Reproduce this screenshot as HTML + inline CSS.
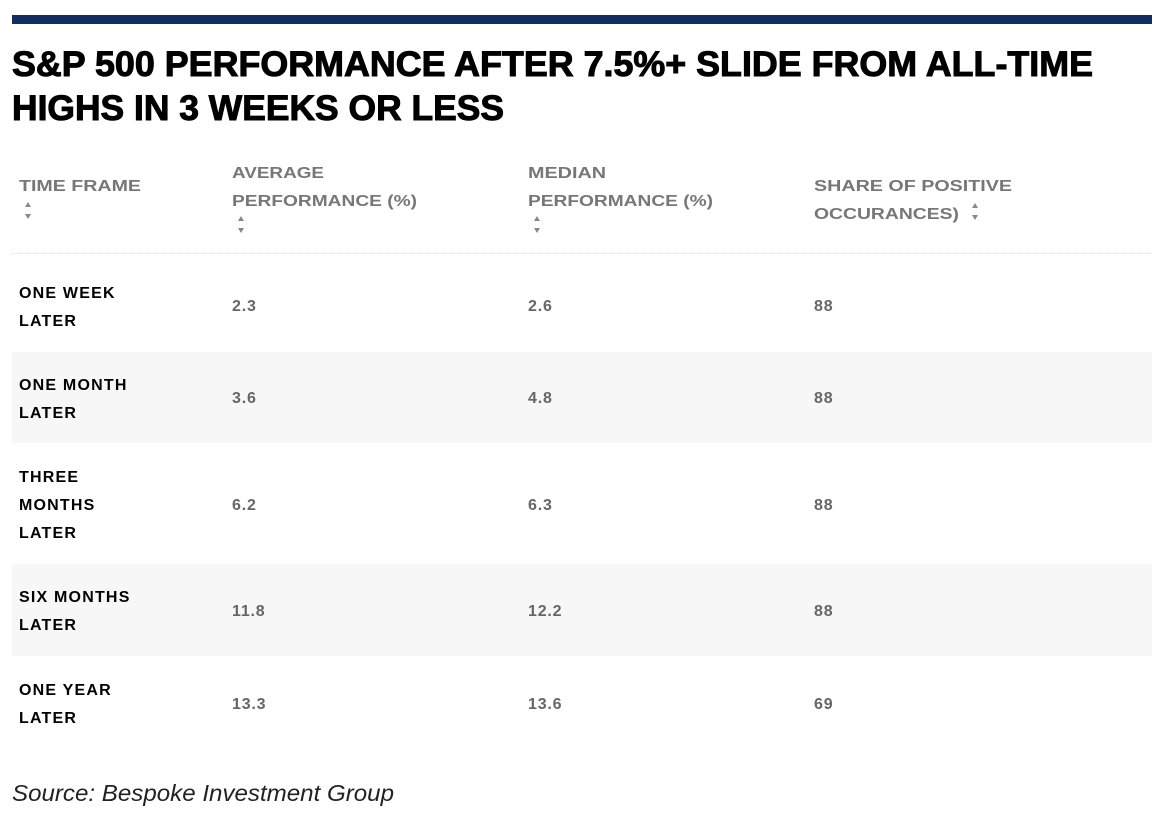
<!DOCTYPE html>
<html><head><meta charset="utf-8"><style>body{margin:0;background:#fff}svg{display:block}</style></head><body>
<svg width="1160" height="820" xmlns="http://www.w3.org/2000/svg" font-family="Liberation Sans, sans-serif">
<rect x="12" y="15" width="1140" height="9" fill="#122d64"/>
<g font-weight="bold" font-size="35" fill="#000" stroke="#000" stroke-width="1">
<text x="12" y="76" textLength="1081" lengthAdjust="spacingAndGlyphs">S&amp;P 500 PERFORMANCE AFTER 7.5%+ SLIDE FROM ALL-TIME</text>
<text x="12" y="120" textLength="492" lengthAdjust="spacingAndGlyphs">HIGHS IN 3 WEEKS OR LESS</text>
</g>
<rect x="12" y="352" width="1140" height="91" fill="#f7f7f7"/>
<rect x="12" y="564" width="1140" height="92" fill="#f7f7f7"/>
<line x1="12" y1="253.5" x2="1152" y2="253.5" stroke="#ddd" stroke-dasharray="1,1"/>
<g font-weight="bold" font-size="16" fill="#777">
<text x="19" y="191" textLength="122" lengthAdjust="spacingAndGlyphs">TIME FRAME</text>
<text x="232" y="178" textLength="92" lengthAdjust="spacingAndGlyphs">AVERAGE</text>
<text x="232" y="206" textLength="185" lengthAdjust="spacingAndGlyphs">PERFORMANCE (%)</text>
<text x="528" y="178" textLength="78" lengthAdjust="spacingAndGlyphs">MEDIAN</text>
<text x="528" y="206" textLength="185" lengthAdjust="spacingAndGlyphs">PERFORMANCE (%)</text>
<text x="814" y="191" textLength="198" lengthAdjust="spacingAndGlyphs">SHARE OF POSITIVE</text>
<text x="814" y="219" textLength="145" lengthAdjust="spacingAndGlyphs">OCCURANCES)</text>
</g>
<g fill="#888">
<path d="M25 207l3-5 3 5zM25 214l3 5 3-5z"/>
<path d="M238 221l3-5 3 5zM238 228l3 5 3-5z"/>
<path d="M534 221l3-5 3 5zM534 228l3 5 3-5z"/>
<path d="M972 208l3-5 3 5zM972 215l3 5 3-5z"/>
</g>
<g font-weight="bold" font-size="16" fill="#000" letter-spacing="1.2">
<text x="19" y="298">ONE WEEK</text><text x="19" y="326">LATER</text>
<text x="19" y="390">ONE MONTH</text><text x="19" y="418">LATER</text>
<text x="19" y="482">THREE</text><text x="19" y="510">MONTHS</text><text x="19" y="538">LATER</text>
<text x="19" y="602">SIX MONTHS</text><text x="19" y="630">LATER</text>
<text x="19" y="695">ONE YEAR</text><text x="19" y="723">LATER</text>
</g>
<g font-weight="bold" font-size="16" fill="#666" letter-spacing="0.8">
<text x="232" y="311">2.3</text><text x="528" y="311">2.6</text><text x="814" y="311">88</text>
<text x="232" y="403">3.6</text><text x="528" y="403">4.8</text><text x="814" y="403">88</text>
<text x="232" y="510">6.2</text><text x="528" y="510">6.3</text><text x="814" y="510">88</text>
<text x="232" y="616">11.8</text><text x="528" y="616">12.2</text><text x="814" y="616">88</text>
<text x="232" y="709">13.3</text><text x="528" y="709">13.6</text><text x="814" y="709">69</text>
</g>
<text x="12" y="801" font-size="23" font-style="italic" fill="#222" textLength="382" lengthAdjust="spacingAndGlyphs">Source: Bespoke Investment Group</text>
</svg>
</body></html>
